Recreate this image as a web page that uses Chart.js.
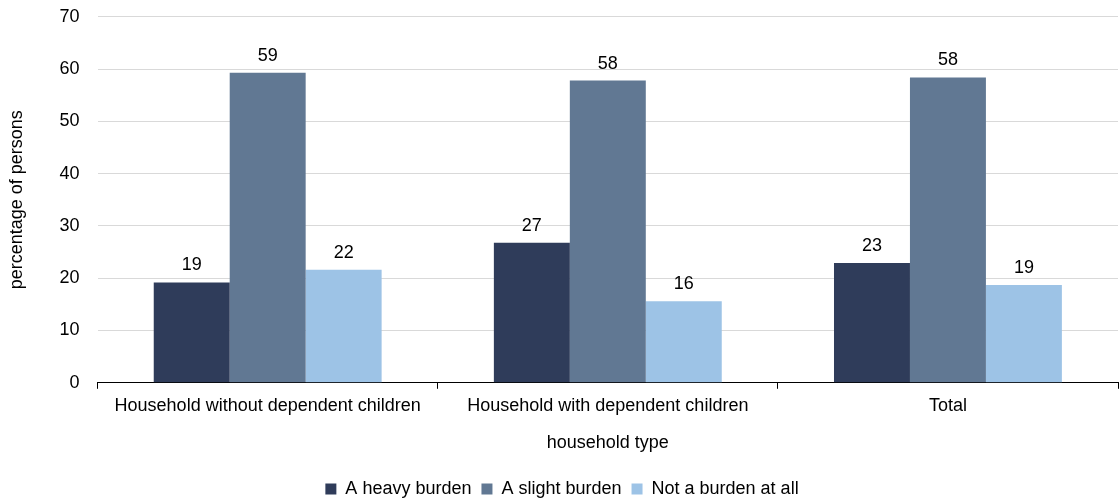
<!DOCTYPE html>
<html lang="en">
<head>
  <meta charset="UTF-8">
  <title>Burden by household type</title>
  <script src="https://cdn.jsdelivr.net/npm/chart.js"></script>
  <style>
    html, body { margin: 0; padding: 0; background: #fff; }
    .chart-container { width: 1119px; height: 498px; position: relative; }
  </style>
</head>
<body>
  <div class="chart-container">
    <canvas id="barChart"></canvas>
  </div>

  <script>
    const categories = ['Household without dependent children', 'Household with dependent children', 'Total'];
    const seriesNames = ['A heavy burden', 'A slight burden', 'Not a burden at all'];
    const heavyBurden = [19.2, 26.8, 22.9];
    const slightBurden = [59.3, 57.8, 58.4];
    const noBurden = [21.6, 15.6, 18.7];
    const yTicks = [0, 10, 20, 30, 40, 50, 60, 70];
    const colors = ['#2f3c5a', '#617893', '#9dc3e6'];

    const fontFamily = '"Liberation Sans", Arial, sans-serif';
    const fontSize = 18;

    // labels drawn above each bar, rounded
    const valueLabels = {
      id: 'valueLabels',
      afterDatasetsDraw(chart) {
        const ctx = chart.ctx;
        ctx.save();
        ctx.font = fontSize + 'px ' + fontFamily;
        ctx.fillStyle = '#000';
        ctx.textAlign = 'center';
        ctx.textBaseline = 'bottom';
        chart.data.datasets.forEach((ds, i) => {
          chart.getDatasetMeta(i).data.forEach((bar, j) => {
            ctx.fillText(Math.round(ds.data[j]), bar.x, bar.y - 8);
          });
        });
        ctx.restore();
      }
    };

    const ctx = document.getElementById('barChart').getContext('2d');
    new Chart(ctx, {
      type: 'bar',
      data: {
        labels: categories,
        datasets: [
          { label: seriesNames[0], data: heavyBurden, backgroundColor: colors[0] },
          { label: seriesNames[1], data: slightBurden, backgroundColor: colors[1] },
          { label: seriesNames[2], data: noBurden, backgroundColor: colors[2] }
        ]
      },
      options: {
        responsive: true,
        maintainAspectRatio: false,
        animation: false,
        layout: { padding: { top: 15, right: 1, left: 6, bottom: -10 } },
        datasets: { bar: { categoryPercentage: 0.67, barPercentage: 1 } },
        plugins: {
          legend: {
            position: 'bottom',
            labels: {
              font: { family: fontFamily, size: fontSize },
              color: '#000',
              boxWidth: 11,
              boxHeight: 11,
              padding: 10
            }
          },
          tooltip: { enabled: false }
        },
        scales: {
          x: {
            grid: { display: true, drawOnChartArea: false, drawTicks: true, tickLength: 6, color: '#000' },
            border: { display: true, color: '#000', width: 1 },
            ticks: { font: { family: fontFamily, size: fontSize }, color: '#000', padding: 6 },
            title: {
              display: true,
              text: 'household type',
              font: { family: fontFamily, size: fontSize },
              color: '#000',
              padding: { top: 10, bottom: 16 }
            }
          },
          y: {
            min: 0,
            max: 70,
            afterBuildTicks(axis) { axis.ticks = yTicks.map(v => ({ value: v })); },
            grid: { color: '#d9d9d9', drawTicks: true, tickLength: 12, tickColor: 'rgba(0,0,0,0)' },
            border: { display: false },
            ticks: { font: { family: fontFamily, size: fontSize }, color: '#000', padding: 6 },
            title: {
              display: true,
              text: 'percentage of persons',
              font: { family: fontFamily, size: fontSize },
              color: '#000',
              padding: { top: 0, bottom: 26 }
            }
          }
        }
      },
      plugins: [valueLabels]
    });
  </script>
</body>
</html>
